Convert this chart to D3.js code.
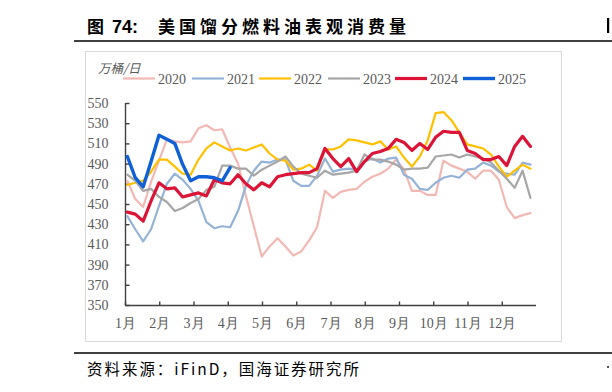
<!DOCTYPE html>
<html>
<head>
<meta charset="utf-8">
<script src="https://cdn.jsdelivr.net/npm/d3@7"></script>
<style>
  html, body { margin: 0; padding: 0; background: #ffffff; }
  svg { display: block; }
</style>
</head>
<body>
<svg id="chart" width="612" height="392"></svg>
<script>
// ---------------- data ----------------
const years = ["2020", "2021", "2022", "2023", "2024", "2025"];
const monthLabels = ["1月","2月","3月","4月","5月","6月","7月","8月","9月","10月","11月","12月"];
const yTicks = [350, 370, 390, 410, 430, 450, 470, 490, 510, 530, 550];

const s2020 = [473,455,447,472,493,514,512,511,512,525,528,523,524,506,490,458,428,398,408,416,408,399,403,414,427,463,456,462,464,465,472,477,480,485,494,484,463,463,459,459,493,488,485,482,475,483,483,474,447,436,439,441];
const s2021 = [438,425,413,425,448,470,480,474,465,453,432,426,428,427,443,468,483,492,491,494,494,473,468,468,478,495,482,484,485,484,492,495,491,495,496,479,475,465,464,471,476,478,476,484,485,491,488,482,480,479,491,489];
const s2022 = [469,471,473,482,494,494,487,480,479,494,505,511,507,503,505,503,506,509,500,494,493,484,485,489,483,504,504,507,514,513,511,509,512,504,507,496,487,497,513,540,541,533,521,509,507,505,499,487,477,483,489,485];
const s2023 = [479,473,463,465,457,452,443,446,451,455,464,467,488,488,485,485,478,484,488,492,497,487,480,478,476,483,479,480,481,483,499,494,494,492,489,484,485,485,486,497,498,499,496,499,497,495,491,483,475,466,483,456];
const s2024 = [442,440,433,453,471,465,466,457,459,461,458,474,471,470,479,470,464,471,467,477,479,480,481,481,485,505,495,487,495,482,492,500,502,505,514,511,503,510,504,516,522,521,521,503,500,494,494,497,488,507,517,507];
const s2025 = [497,476,467,492,518,514,510,489,473,477,477,476,473,486];

const seriesValues = [s2020, s2021, s2022, s2023, s2024, s2025];
const colors = ["#F2B8B4", "#95B3D7", "#FFC000", "#A6A6A6", "#DC1438", "#0F60D6"];
const widths = [2.2, 2.2, 2.2, 2.2, 3.2, 3.4];

// ---------------- layout ----------------
const svg = d3.select("#chart");
const x = d3.scaleLinear().domain([0, 52]).range([125, 536]);
const y = d3.scaleLinear().domain([350, 550]).range([305, 103]);
const fontSerif = "'Liberation Serif','Times New Roman',serif";
const fontCJK = "'Noto Sans CJK SC','Noto Sans',sans-serif";

// title
svg.append("text").attr("x", 87).attr("y", 33)
  .attr("font-family", fontCJK).attr("font-weight", "bold").attr("font-size", 17)
  .attr("fill", "#000").text("图");
svg.append("text").attr("x", 112).attr("y", 33)
  .attr("font-family", "'Liberation Sans',Arial,sans-serif").attr("font-weight", "bold").attr("font-size", 18)
  .attr("fill", "#000").text("74:");
svg.append("text").attr("x", 158).attr("y", 33)
  .attr("font-family", fontCJK).attr("font-weight", "bold").attr("font-size", 17)
  .attr("textLength", 248).attr("lengthAdjust", "spacing")
  .attr("fill", "#000").text("美国馏分燃料油表观消费量");
// cut-off edge of the neighbouring column (drawn as marks)
svg.append("rect").attr("x", 607).attr("y", 18).attr("width", 2.2).attr("height", 15).attr("fill", "#000");
svg.append("rect").attr("x", 607).attr("y", 366).attr("width", 2).attr("height", 2).attr("fill", "#555");

svg.append("line").attr("x1", 74).attr("x2", 612).attr("y1", 41).attr("y2", 41)
  .attr("stroke", "#000").attr("stroke-width", 1.5);

// chart frame
svg.append("rect").attr("x", 85.5).attr("y", 51.5).attr("width", 476).attr("height", 290)
  .attr("fill", "none").attr("stroke", "#D9D9D9").attr("stroke-width", 1);

// source
svg.append("line").attr("x1", 74).attr("x2", 612).attr("y1", 353).attr("y2", 353)
  .attr("stroke", "#000").attr("stroke-width", 1.5);
svg.append("text").attr("x", 87).attr("y", 375)
  .attr("font-family", fontCJK).attr("font-size", 15.5)
  .attr("textLength", 272).attr("lengthAdjust", "spacing")
  .attr("fill", "#000").text("资料来源：iFinD，国海证券研究所");

// unit
svg.append("text").attr("x", 98).attr("y", 73)
  .attr("font-family", fontCJK).attr("font-size", 12.5).attr("font-style", "italic")
  .attr("fill", "#595959").text("万桶/日");

// legend
const legendLineX = [123, 192, 259, 328, 395, 463];
const legend = svg.append("g");
years.forEach((yr, k) => {
  legend.append("line")
    .attr("x1", legendLineX[k]).attr("x2", legendLineX[k] + 32)
    .attr("y1", 78.5).attr("y2", 78.5)
    .attr("stroke", colors[k]).attr("stroke-width", widths[k]);
  legend.append("text")
    .attr("x", legendLineX[k] + 35).attr("y", 83.5)
    .attr("font-family", fontSerif).attr("font-size", 14)
    .attr("fill", "#595959").text(yr);
});

// axes
const yAxis = d3.axisLeft(y).tickValues(yTicks).tickSizeInner(-4).tickSizeOuter(0).tickPadding(17);
const gy = svg.append("g").attr("transform", "translate(125.5,0)").call(yAxis);
const monthPos = d3.range(12).map(m => m * 52 / 12);
const xAxis = d3.axisBottom(x).tickValues(monthPos).tickFormat((d, i) => monthLabels[i])
  .tickSizeInner(-4).tickSizeOuter(0).tickPadding(13);
const gx = svg.append("g").attr("transform", "translate(0,305.5)").call(xAxis);

[gy, gx].forEach(g => {
  g.select(".domain").attr("stroke", "#404040").attr("stroke-width", 1.4);
  g.selectAll(".tick line").attr("stroke", "#404040").attr("stroke-width", 1.4);
  g.selectAll(".tick text").attr("fill", "#595959")
    .attr("font-family", fontSerif).attr("font-size", 14);
});
gy.select(".domain").attr("d", "M0,305V103");
gx.select(".domain").attr("d", "M125,0H536");

// series
const line = d3.line()
  .x((d, i) => x(i + 0.3))
  .y(d => y(d));
seriesValues.forEach((vals, k) => {
  svg.append("path").datum(vals)
    .attr("d", line)
    .attr("fill", "none")
    .attr("stroke", colors[k])
    .attr("stroke-width", widths[k])
    .attr("stroke-linejoin", "round")
    .attr("stroke-linecap", "round");
});
</script>
</body>
</html>
